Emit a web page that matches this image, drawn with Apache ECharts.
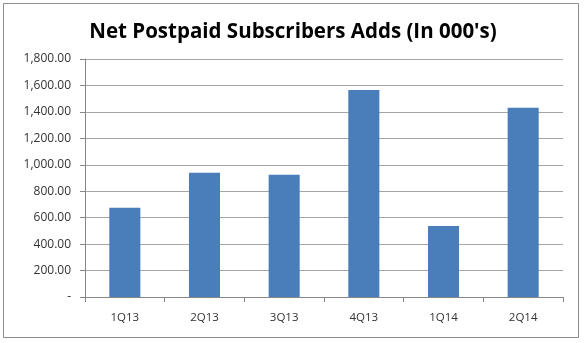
<!DOCTYPE html>
<html>
<head>
<meta charset="utf-8">
<script src="https://cdn.jsdelivr.net/npm/echarts@6/dist/echarts.min.js"></script>
<style>html,body{margin:0;padding:0;background:#fff}#c{width:586px;height:343px}</style>
</head>
<body>
<div id="c"></div>
<script>
var categories = ['1Q13', '2Q13', '3Q13', '4Q13', '1Q14', '2Q14'];
var netAdds = [675, 940, 925, 1566, 537, 1432];
var yMin = 0, yMax = 1800, yStep = 200;

var chart = echarts.init(document.getElementById('c'), null, {renderer: 'canvas'});
chart.setOption({
  animation: false,
  backgroundColor: '#fff',
  title: {
    text: "Net Postpaid Subscribers Adds (In 000's)",
    left: 'center',
    top: 17,
    textStyle: {fontFamily: 'Open Sans', fontWeight: 'bold', fontSize: 20.5, color: '#000'}
  },
  graphic: [{
    type: 'rect', shape: {x: 3.5, y: 3.5, width: 575, height: 334},
    style: {fill: 'none', stroke: '#8c8c8c', lineWidth: 1}, z: -1
  }],
  grid: {left: 85, right: 23, top: 59, bottom: 46, containLabel: false},
  xAxis: {
    type: 'category',
    data: categories,
    boundaryGap: true,
    axisLine: {lineStyle: {color: '#868686'}},
    axisTick: {show: true, alignWithLabel: false, length: 5, lineStyle: {color: '#868686'}},
    axisLabel: {color: '#333', fontFamily: 'Open Sans', fontSize: 11.5, margin: 15}
  },
  yAxis: {
    type: 'value',
    min: yMin, max: yMax, interval: yStep,
    axisLine: {show: true, lineStyle: {color: '#868686'}},
    axisTick: {show: true, length: 5, lineStyle: {color: '#868686'}},
    splitLine: {lineStyle: {color: '#a6a6a6'}},
    axisLabel: {
      color: '#333', fontFamily: 'Open Sans', fontSize: 12, margin: 14,
      formatter: function (v) {
        if (v === 0) return '-';
        return v.toLocaleString('en-US', {minimumFractionDigits: 2, maximumFractionDigits: 2});
      }
    }
  },
  series: [{
    type: 'bar',
    data: netAdds,
    barWidth: '39%',
    itemStyle: {color: '#4a7ebb'}
  }]
});
</script>
</body>
</html>
